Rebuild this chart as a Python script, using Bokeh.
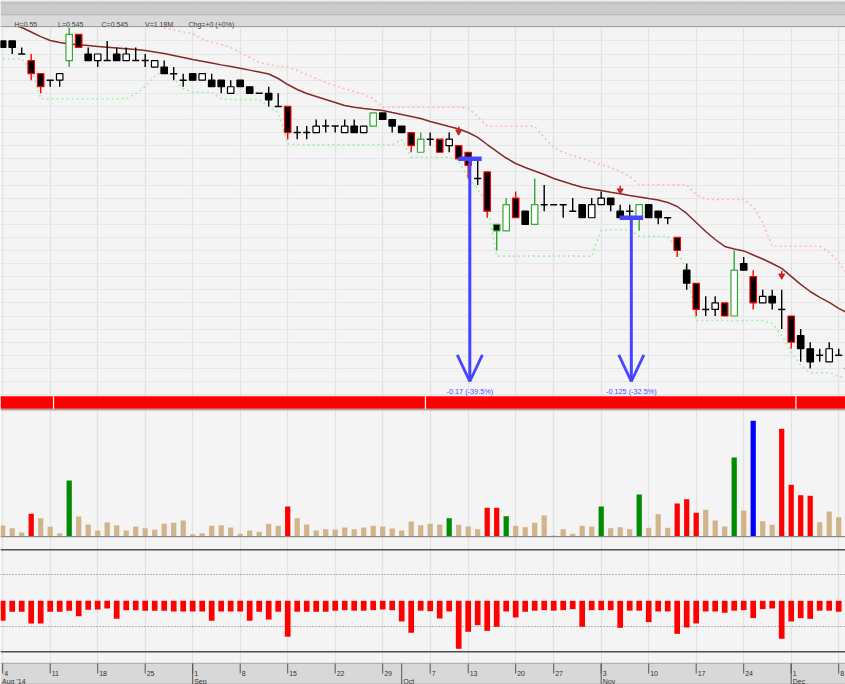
from bokeh.plotting import figure
from bokeh.models import Range1d
from bokeh.core.properties import value
from bokeh.embed import file_html
from bokeh.resources import INLINE

# ---------------- data (SGX trading days, 4 Aug 2014 - 9 Dec 2014) ----------------
opens = [0.52, 0.52, 0.51, 0.505, 0.495, 0.49, 0.49, 0.505, 0.525, 0.51,
         0.505, 0.505, 0.51, 0.505, 0.505, 0.505, 0.50, 0.50, 0.495, 0.49,
         0.495, 0.49, 0.49, 0.49, 0.48, 0.49, 0.485, 0.48, 0.48, 0.47,
         0.47, 0.45, 0.45, 0.45, 0.455, 0.455, 0.45, 0.455, 0.45, 0.455,
         0.465, 0.46, 0.455, 0.45, 0.435, 0.445, 0.445, 0.44, 0.44, 0.435,
         0.415, 0.42, 0.38, 0.375, 0.40, 0.39, 0.38, 0.395, 0.395, 0.395,
         0.39, 0.395, 0.385, 0.395, 0.40, 0.39, 0.39, 0.385, 0.395, 0.39,
         0.385, 0.37, 0.345, 0.335, 0.315, 0.315, 0.32, 0.31, 0.35, 0.34,
         0.32, 0.325, 0.315, 0.31, 0.295, 0.285, 0.28, 0.275, 0.28, 0.27]
highs = [0.52, 0.52, 0.515, 0.51, 0.495, 0.49, 0.495, 0.53, 0.525, 0.515,
         0.51, 0.52, 0.515, 0.515, 0.515, 0.51, 0.505, 0.505, 0.50, 0.495,
         0.495, 0.495, 0.495, 0.49, 0.49, 0.49, 0.485, 0.48, 0.485, 0.48,
         0.47, 0.455, 0.455, 0.46, 0.46, 0.455, 0.46, 0.46, 0.455, 0.465,
         0.465, 0.46, 0.455, 0.45, 0.45, 0.45, 0.445, 0.45, 0.44, 0.435,
         0.43, 0.42, 0.38, 0.40, 0.405, 0.39, 0.415, 0.41, 0.395, 0.395,
         0.40, 0.395, 0.40, 0.405, 0.40, 0.395, 0.395, 0.395, 0.395, 0.39,
         0.385, 0.37, 0.35, 0.335, 0.325, 0.325, 0.32, 0.36, 0.355, 0.345,
         0.33, 0.33, 0.33, 0.31, 0.30, 0.29, 0.285, 0.29, 0.285, 0.27]
lows = [0.515, 0.51, 0.51, 0.49, 0.48, 0.485, 0.485, 0.50, 0.515, 0.505,
        0.50, 0.505, 0.505, 0.505, 0.505, 0.50, 0.50, 0.495, 0.49, 0.485,
        0.49, 0.49, 0.485, 0.48, 0.48, 0.485, 0.48, 0.48, 0.47, 0.47,
        0.445, 0.445, 0.445, 0.45, 0.45, 0.45, 0.45, 0.45, 0.45, 0.455,
        0.46, 0.45, 0.45, 0.435, 0.435, 0.44, 0.435, 0.435, 0.43, 0.415,
        0.41, 0.385, 0.36, 0.375, 0.385, 0.38, 0.38, 0.39, 0.395, 0.385,
        0.39, 0.385, 0.385, 0.395, 0.39, 0.385, 0.385, 0.375, 0.385, 0.38,
        0.38, 0.355, 0.33, 0.31, 0.31, 0.31, 0.31, 0.31, 0.345, 0.315,
        0.32, 0.315, 0.30, 0.285, 0.275, 0.27, 0.275, 0.275, 0.28, 0.27]
closes = [0.515, 0.515, 0.51, 0.495, 0.485, 0.49, 0.495, 0.525, 0.515, 0.505,
          0.51, 0.505, 0.505, 0.51, 0.505, 0.505, 0.505, 0.495, 0.495, 0.49,
          0.49, 0.495, 0.485, 0.485, 0.485, 0.485, 0.48, 0.48, 0.475, 0.47,
          0.45, 0.45, 0.45, 0.455, 0.455, 0.455, 0.455, 0.45, 0.455, 0.465,
          0.46, 0.455, 0.45, 0.44, 0.445, 0.445, 0.435, 0.445, 0.43, 0.425,
          0.415, 0.39, 0.375, 0.395, 0.385, 0.38, 0.395, 0.395, 0.395, 0.395,
          0.39, 0.385, 0.395, 0.40, 0.395, 0.385, 0.39, 0.395, 0.385, 0.385,
          0.385, 0.36, 0.335, 0.315, 0.315, 0.32, 0.31, 0.345, 0.345, 0.32,
          0.325, 0.32, 0.315, 0.29, 0.285, 0.275, 0.28, 0.285, 0.28, 0.27]
volume_m = [1.1, 0.83, 0.4, 2.27, 1.83, 0.97, 0.33, 5.6, 2.0, 1.2,
            0.6, 1.4, 1.13, 0.6, 1.0, 0.83, 0.67, 1.27, 1.37, 1.6,
            0.23, 0.33, 1.07, 1.13, 0.9, 0.27, 0.6, 0.47, 1.27, 1.07,
            3.0, 1.83, 1.2, 0.6, 0.73, 0.7, 0.9, 0.73, 0.9, 1.07,
            1.0, 0.8, 0.6, 1.5, 1.13, 1.27, 1.2, 1.83, 1.17, 1.0,
            0.73, 2.87, 2.87, 2.03, 1.07, 0.93, 1.37, 2.1, 0.1, 0.73,
            0.27, 1.07, 1.0, 3.0, 0.83, 0.93, 0.73, 4.2, 0.87, 2.23,
            0.87, 3.3, 3.73, 2.37, 2.67, 1.6, 1.0, 7.9, 2.6, 11.57,
            1.53, 1.17, 10.77, 5.17, 4.13, 4.07, 1.43, 2.5, 1.93, 1.18]
oscillator = [-38.5, -21, -21, -43.6, -43.6, -21, -21, -19, -29.5, -17.3,
              -16.7, -14.7, -34.6, -18, -18, -19, -19, -19, -20.5, -20.5,
              -20.5, -20.5, -38.5, -20.5, -20.5, -20.5, -38.5, -21, -36, -21,
              -69, -21, -21, -21, -21, -19, -18, -19, -19, -18,
              -16.7, -18, -39.7, -61.5, -19, -20, -34, -20.5, -92.3, -59.6,
              -46.8, -57.7, -50, -20.5, -32, -21, -19, -18, -19, -18,
              -16, -50, -18, -18, -18, -52, -19, -19, -41, -20.5,
              -20.5, -63.5, -51.3, -43.6, -20.5, -20.5, -23, -19, -18, -33.3,
              -16, -14.7, -73, -39.7, -33.3, -34.6, -19, -19, -21, -20]
moving_avg = [0.5348, 0.5325, 0.5302, 0.5268, 0.5233, 0.5203, 0.5187, 0.5177, 0.5170, 0.5164,
              0.5158, 0.5152, 0.5146, 0.5140, 0.5134, 0.5126, 0.5115, 0.5103, 0.5088, 0.5073,
              0.5058, 0.5045, 0.5031, 0.5017, 0.5004, 0.4991, 0.4977, 0.4962, 0.4947, 0.4913,
              0.4867, 0.4829, 0.4798, 0.4775, 0.4752, 0.4730, 0.4707, 0.4694, 0.4684, 0.4676,
              0.4669, 0.4653, 0.4638, 0.4623, 0.4607, 0.4585, 0.4566, 0.4546, 0.4527, 0.4501,
              0.4463, 0.4409, 0.4356, 0.4306, 0.4264, 0.4234, 0.4207, 0.4180, 0.4150, 0.4127,
              0.4104, 0.4083, 0.4070, 0.4058, 0.4045, 0.4033, 0.4020, 0.4009, 0.3997, 0.3986,
              0.3967, 0.3936, 0.3883, 0.3814, 0.3745, 0.3684, 0.3631, 0.3612, 0.3597, 0.3566,
              0.3535, 0.3501, 0.3463, 0.3402, 0.3341, 0.3287, 0.3242, 0.3204, 0.3158, 0.3120]
upper_stop_first_day = 16
upper_stop = [0.5332, 0.5298, 0.5283, 0.5268, 0.5254, 0.5216, 0.5190, 0.5172, 0.5149, 0.5111,
              0.5073, 0.5035, 0.5020, 0.5008, 0.4999, 0.4974, 0.4943, 0.4913, 0.4882, 0.4859,
              0.4836, 0.4814, 0.4791, 0.4760, 0.4694, 0.4694, 0.4694, 0.4694, 0.4694, 0.4694,
              0.4694, 0.4694, 0.4694, 0.4684, 0.4623, 0.4549, 0.4549, 0.4549, 0.4549, 0.4549,
              0.4547, 0.4463, 0.4386, 0.4348, 0.4325, 0.4302, 0.4279, 0.4256, 0.4234, 0.4203,
              0.4165, 0.4102, 0.4102, 0.4102, 0.4102, 0.4102, 0.4102, 0.4028, 0.3989, 0.3989,
              0.3989, 0.3989, 0.3989, 0.3936, 0.3814, 0.3633, 0.3633, 0.3633, 0.3633, 0.3633,
              0.3633, 0.3585, 0.3509, 0.3410]
lower_stop = [0.5063, 0.5063, 0.5063, 0.4983, 0.4758, 0.4758, 0.4758, 0.4758, 0.4758, 0.4758,
              0.4758, 0.4758, 0.4758, 0.4758, 0.4798, 0.4852, 0.4928, 0.4987, 0.4913, 0.4836,
              0.4808, 0.4808, 0.4808, 0.4758, 0.4752, 0.4752, 0.4752, 0.4752, 0.4699, 0.4653,
              0.4414, 0.4407, 0.4407, 0.4407, 0.4407, 0.4407, 0.4407, 0.4407, 0.4407, 0.4407,
              0.4407, 0.4407, 0.4447, 0.4312, 0.4312, 0.4312, 0.4312, 0.4312, 0.4287, 0.4150,
              0.4073, 0.3944, 0.3557, 0.3557, 0.3557, 0.3557, 0.3557, 0.3557, 0.3557, 0.3557,
              0.3557, 0.3557, 0.3557, 0.3753, 0.3758, 0.3758, 0.3758, 0.3709, 0.3709, 0.3709,
              0.3709, 0.3600, 0.3448, 0.3066, 0.3066, 0.3066, 0.3066, 0.3066, 0.3066, 0.3066,
              0.3066, 0.3043, 0.2952, 0.2822, 0.2723, 0.2667, 0.2667, 0.2667, 0.2639, 0.2624]
# candle signal class: k = normal, r = strong down, g = strong up
candle_tone = ("kkkrrkkgrk" "kkkkkkkkkk" "kkkkkkkkkk" "rkkkkkkkkg" "kkkrgkrkrr"
               "krggrkgkkk" "kkkkkkkgkk" "krkrkkrgkr" "kkkrkkkkkk")
# volume class: n = normal, r = heavy down, g = heavy up, b = peak
volume_tone = ("nnnrnnngnn" "nnnnnnnnnn" "nnnnnnnnnn" "rnnnnnnnnn" "nnnnnnngnn"
               "nrrgnnnnnn" "nnngnnngnn" "nrrrnnngnb" "nnrrrrnnnn")
signal_days = [48, 65, 82]
measure_days = [49, 66]
measure_from = [0.43, 0.385]
measure_to = [0.26, 0.26]
strip_breaks = [5.35, 44.5, 83.5]
week_ticks = [0, 5, 10, 15, 20, 25, 30, 35, 40, 45, 49, 54, 58, 63, 68, 73, 78, 83, 88]
week_labels = ["4", "11", "18", "25", "1", "8", "15", "22", "29", "7",
               "13", "20", "27", "3", "10", "17", "24", "1", "8"]
month_ticks = [-1, 20, 42, 63, 83]
month_labels = ["Aug '14", "Sep", "Oct", "Nov", "Dec"]
header_fields = ["H=0.55", "L=0.545", "C=0.545", "V=1.18M", "Chg=+0 (+0%)"]
price_grid = [0.25, 0.26, 0.27, 0.28, 0.29, 0.30, 0.31, 0.32, 0.33, 0.34, 0.35, 0.36,
              0.37, 0.38, 0.39, 0.40, 0.41, 0.42, 0.43, 0.44, 0.45, 0.46, 0.47, 0.48,
              0.49, 0.50, 0.51, 0.52, 0.53, 0.54, 0.55]

# ---------------- layout (reference pixel geometry) ----------------
REF_W, REF_H = 845, 684
W, H = 845, 684
SX = W / REF_W
DAY0_PX, DAY_PX = 2.2, 9.5
PPX = 0.01 / 13.1            # price per reference pixel
FONT = value("Liberation Sans")
X_START = (0 - DAY0_PX) / DAY_PX


def fs(px):
    return f"{px * SX:.2f}px"


def yrange(v_at, y_at, per_px):
    return Range1d(start=v_at - (REF_H - y_at) * per_px, end=v_at + y_at * per_px)


days = list(range(len(closes)))

p = figure(width=W, height=H, output_backend="svg", toolbar_location=None,
           x_range=Range1d(X_START, (REF_W - DAY0_PX) / DAY_PX),
           y_range=Range1d(REF_H, 0), x_axis_type=None, y_axis_type=None,
           min_border=0, outline_line_color=None,
           background_fill_color="#f4f4f4", border_fill_color="#f4f4f4")
p.extra_x_ranges = {"px": Range1d(0, REF_W)}
p.extra_y_ranges = {"price": yrange(0.43, 158.3, PPX),
                    "vol": yrange(0.0, 536.0, 0.1),
                    "osc": yrange(0.0, 600.3, 50 / 26)}

# grid
p.vspan(x=week_ticks, line_color="#e2e2e2", line_width=1.2)
p.hspan(y=price_grid, y_range_name="price", line_color="#e6e6e6", line_width=1)

# volume panel
vol_map = {"n": "#d2b48c", "r": "#ff0000", "g": "#008c00", "b": "#0000ff"}
p.vbar(x=days, width=0.55, top=volume_m, bottom=0, y_range_name="vol",
       fill_color=[vol_map[t] for t in volume_tone], line_color=None)

# oscillator panel
p.hspan(y=[50, -50], y_range_name="osc", line_color="#707070", line_dash="1 2", line_width=1)
p.vbar(x=days, width=0.6, top=0, bottom=oscillator, y_range_name="osc",
       fill_color="#ff0000", line_color=None)

# trailing stops and moving average
p.line(x=list(range(upper_stop_first_day, upper_stop_first_day + len(upper_stop))), y=upper_stop,
       y_range_name="price", line_color="#ffb8bd", line_dash="2 3", line_width=1.6)
p.line(x=days, y=lower_stop, y_range_name="price",
       line_color="#a8eea8", line_dash="2 3", line_width=1.6)
p.line(x=days, y=moving_avg, y_range_name="price", line_color="#842a2a", line_width=1.5)

# candles
edge_map = {"k": "#000000", "r": "#ff0000", "g": "#33a833"}
edge = [edge_map[t] for t in candle_tone]
wick_i = [i for i in days if highs[i] > lows[i]]
p.segment(x0=wick_i, x1=wick_i, y0=[lows[i] for i in wick_i], y1=[highs[i] for i in wick_i],
          line_color=[edge[i] for i in wick_i], line_width=1.4, y_range_name="price")
body_i = [i for i in days if opens[i] != closes[i]]
p.vbar(x=body_i, width=0.68,
       top=[max(opens[i], closes[i]) for i in body_i],
       bottom=[min(opens[i], closes[i]) for i in body_i],
       fill_color=["#000000" if closes[i] < opens[i] else "#ffffff" for i in body_i],
       line_color=[edge[i] for i in body_i], line_width=1.2, y_range_name="price")
doji_i = [i for i in days if opens[i] == closes[i]]
p.segment(x0=[i - 0.37 for i in doji_i], x1=[i + 0.37 for i in doji_i],
          y0=[closes[i] for i in doji_i], y1=[closes[i] for i in doji_i],
          line_color=[edge[i] for i in doji_i], line_width=1.5, y_range_name="price")

# signal arrows above candles
sig_hi = [highs[i] for i in signal_days]
p.segment(x0=signal_days, x1=signal_days, y0=[h + 15 * PPX for h in sig_hi],
          y1=[h + 19 * PPX for h in sig_hi], line_color="#cc2222", line_width=1.5,
          y_range_name="price")
p.scatter(x=signal_days, y=[h + 14 * PPX for h in sig_hi], marker="inverted_triangle",
          size=6, fill_color="#cc2222", line_color="#cc2222", y_range_name="price")

# measurement arrows
BLUE = "#4545ff"
mx = [d + 0.17 for d in measure_days]
p.segment(x0=[x - 1.22 for x in mx], x1=[x + 1.25 for x in mx], y0=measure_from, y1=measure_from,
          line_color=BLUE, line_width=4.5, y_range_name="price")
p.segment(x0=mx, x1=mx, y0=measure_from, y1=measure_to, line_color=BLUE, line_width=3,
          y_range_name="price")
for sgn in (-1, 1):
    p.segment(x0=[x + sgn * 1.32 for x in mx], x1=mx,
              y0=[t + 26.7 * PPX for t in measure_to], y1=measure_to,
              line_color=BLUE, line_width=2.8, y_range_name="price")
labels = []
for a, b in zip(measure_from, measure_to):
    chg = round(b - a, 4)
    labels.append(f"{chg:g} ({chg / a * 100:.1f}%)")
p.text(x=mx, y=[t - 9.7 * PPX for t in measure_to], text=labels, y_range_name="price",
       text_align="center", text_baseline="alphabetic", text_color="#5050ff",
       text_font=FONT, text_font_size=fs(7.3))

# red trend strip and panel separators
p.quad(left=0, right=REF_W, top=395.7, bottom=408.3, x_range_name="px",
       fill_color="#ff0000", line_color=None)
p.segment(x0=strip_breaks, x1=strip_breaks, y0=395.7, y1=408.3, line_color="#ffffff", line_width=1.2)
p.segment(x0=0, x1=REF_W, y0=409.2, y1=409.2, x_range_name="px", line_color="#a8a8a8", line_width=1.5)
p.segment(x0=0, x1=REF_W, y0=536.2, y1=536.2, x_range_name="px", line_color="#8a8a8a", line_width=1.2)
p.segment(x0=0, x1=REF_W, y0=[549.3, 651.3], y1=[549.3, 651.3], x_range_name="px",
          line_color="#4e4e4e", line_width=1.5)

# header bar
p.quad(left=0, right=REF_W, top=[0, 2.5, 14.3], bottom=[2.5, 14.3, 26], x_range_name="px",
       fill_color=["#d6d6d6", "#cacaca", "#dadada"], line_color=None)
p.segment(x0=0, x1=REF_W, y0=[2.5, 14.3, 26], y1=[2.5, 14.3, 26], x_range_name="px",
          line_color=["#b5b5b5", "#b0b0b0", "#a2a2a2"], line_width=1)
p.text(x=[14 + 43.5 * k for k in range(len(header_fields))], y=24, text=header_fields,
       x_range_name="px", text_baseline="alphabetic", text_color="#444444",
       text_font=FONT, text_font_size=fs(7))

# date axis band
p.quad(left=0, right=REF_W, top=662.8, bottom=REF_H, x_range_name="px",
       fill_color="#d8d8d8", line_color=None)
p.segment(x0=0, x1=REF_W, y0=[662.8, 683.5], y1=[662.8, 683.5], x_range_name="px",
          line_color=["#a5a5a5", "#b0b0b0"], line_width=1)
p.segment(x0=week_ticks, x1=week_ticks, y0=663, y1=673, line_color="#555555", line_width=1)
p.segment(x0=month_ticks, x1=month_ticks, y0=663, y1=684, line_color="#555555", line_width=1)
p.text(x=week_ticks, y=672.5, text=week_labels, x_offset=1.5, text_baseline="alphabetic",
       text_color="#333333", text_font=FONT, text_font_size=fs(7))
p.text(x=[max(t, X_START) for t in month_ticks], y=681.0, text=month_labels, x_offset=1.5,
       text_baseline="alphabetic", text_color="#333333", text_font=FONT, text_font_size=fs(7))

open("out.html", "w").write(file_html(p, INLINE))
